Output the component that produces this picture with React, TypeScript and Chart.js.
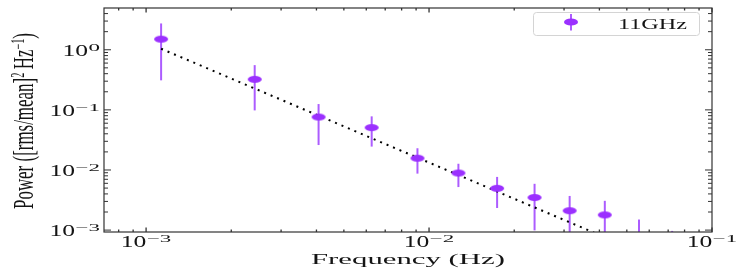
import React, { useEffect, useRef } from 'react';
import { Chart, registerables } from 'chart.js';

Chart.register(...registerables);

// ---- data ----
const freq = [1.13e-3, 2.42e-3, 4.07e-3, 6.27e-3, 9.1e-3, 1.27e-2, 1.74e-2, 2.36e-2, 3.14e-2, 4.18e-2, 5.52e-2, 7.23e-2];
const power = [1.5, 0.322, 0.076, 0.0507, 0.0157, 0.0089, 0.00495, 0.00348, 0.0021, 0.00179, 0.0006, 0.0004];
const powerHi = [2.74, 0.555, 0.125, 0.078, 0.023, 0.0127, 0.00767, 0.00589, 0.0037, 0.00307, 0.0015, 0.00097];
const powerLo = [0.31, 0.098, 0.026, 0.0245, 0.0087, 0.0052, 0.00233, 0.00099, 0.0001, 0.0001, 0.0001, 0.0001];
const fitFreq = [1.13e-3, 4.5e-2];
const fitPower = [1.04, 6.56e-4];
const xTickExps = [-3, -2, -1];
const yTickExps = [0, -1, -2, -3];
const seriesLabel = '11GHz';
const xTitle = 'Frequency (Hz)';
const yTitleRuns = [
  { t: 'Power ([rms/mean]', sup: false },
  { t: '2', sup: true },
  { t: '\u2009Hz', sup: false },
  { t: '\u2212', sup: true },
  { t: '1', sup: true },
  { t: ')', sup: false },
];

// ---- styles ----
const FONT = '"Liberation Serif", "DejaVu Serif", serif';
const MARKER = 'rgb(155,48,255)';
const BAR = 'rgb(172,92,255)';
const AXIS = '#333333';
const TEXT = '#141414';

function makeMarker(w: number, h: number) {
  const c = document.createElement('canvas');
  c.width = w + 2;
  c.height = h + 2;
  const g = c.getContext('2d')!;
  g.fillStyle = MARKER;
  g.beginPath();
  g.ellipse(c.width / 2, c.height / 2, w / 2, h / 2, 0, 0, Math.PI * 2);
  g.fill();
  return c;
}

function drawPow(ctx: CanvasRenderingContext2D, e: number, ax: number, baseline: number, align: 'center' | 'right') {
  const MAIN_SX = 1.6, SUP_SX = 2.3, GAP = 0.5;
  ctx.font = `16px ${FONT}`;
  const w1 = ctx.measureText('10').width * MAIN_SX;
  const sup = e === 0 ? '0' : '\u2212' + Math.abs(e);
  ctx.font = `10px ${FONT}`;
  const w2 = ctx.measureText(sup).width * SUP_SX;
  const total = w1 + GAP + w2;
  const left = align === 'center' ? ax - total / 2 : ax - total;
  ctx.save();
  ctx.translate(left, baseline);
  ctx.scale(MAIN_SX, 1);
  ctx.font = `16px ${FONT}`;
  ctx.fillText('10', 0, 0);
  ctx.restore();
  ctx.save();
  ctx.translate(left + w1 + GAP, baseline - 5);
  ctx.scale(SUP_SX, 1);
  ctx.font = `10px ${FONT}`;
  ctx.fillText(sup, 0, 0);
  ctx.restore();
}

function drawFitted(ctx: CanvasRenderingContext2D, text: string, fs: number, x: number, baseline: number, targetW: number, anchor: number) {
  ctx.font = `${fs}px ${FONT}`;
  const w = ctx.measureText(text).width;
  const s = targetW / w;
  ctx.save();
  ctx.translate(x - anchor * targetW, baseline);
  ctx.scale(s, 1);
  ctx.fillText(text, 0, 0);
  ctx.restore();
}

function drawYTitle(ctx: CanvasRenderingContext2D, cx: number, cy: number, targetLen: number, across: number) {
  const fs = 14, sfs = 8.5, rise = 4.2;
  let w = 0;
  for (const r of yTitleRuns) {
    ctx.font = `${r.sup ? sfs : fs}px ${FONT}`;
    w += ctx.measureText(r.t).width;
  }
  const s = targetLen / w;
  ctx.save();
  ctx.translate(cx, cy);
  ctx.rotate(-Math.PI / 2);
  ctx.scale(s, across);
  let px = -w / 2;
  for (const r of yTitleRuns) {
    ctx.font = `${r.sup ? sfs : fs}px ${FONT}`;
    ctx.fillText(r.t, px, r.sup ? -rise : 0);
    px += ctx.measureText(r.t).width;
  }
  ctx.restore();
}

const decor = {
  id: 'decor',
  beforeDatasetsDraw(chart: any) {
    const { ctx, chartArea: a, scales } = chart;
    const x = scales.x, y = scales.y;
    ctx.save();
    ctx.beginPath();
    ctx.rect(a.left, a.top, a.right - a.left, a.bottom - a.top);
    ctx.clip();
    ctx.strokeStyle = BAR;
    ctx.lineWidth = 2;
    for (let i = 0; i < freq.length; i++) {
      const px = x.getPixelForValue(freq[i]);
      ctx.beginPath();
      ctx.moveTo(px, y.getPixelForValue(powerHi[i]));
      ctx.lineTo(px, y.getPixelForValue(powerLo[i]));
      ctx.stroke();
    }
    ctx.restore();
  },
  afterDraw(chart: any) {
    const { ctx, chartArea: a, scales } = chart;
    const x = scales.x, y = scales.y;
    ctx.save();
    // frame
    ctx.strokeStyle = AXIS;
    ctx.lineWidth = 1.2;
    ctx.strokeRect(a.left, a.top, a.right - a.left, a.bottom - a.top);
    // x ticks (top and bottom, inward)
    ctx.lineWidth = 1.3;
    for (let e = -5; e <= 1; e++) {
      for (let m = 1; m <= 9; m++) {
        const v = m * Math.pow(10, e);
        if (v < x.min * 0.999 || v > x.max * 1.001) continue;
        const px = x.getPixelForValue(v);
        const L = m === 1 ? 4.5 : 2.5;
        ctx.beginPath();
        ctx.moveTo(px, a.bottom);
        ctx.lineTo(px, a.bottom - L);
        ctx.moveTo(px, a.top);
        ctx.lineTo(px, a.top + L);
        ctx.stroke();
      }
    }
    // y ticks (left and right, inward)
    ctx.lineWidth = 1;
    for (let e = -5; e <= 1; e++) {
      for (let m = 1; m <= 9; m++) {
        const v = m * Math.pow(10, e);
        if (v < y.min * 0.999 || v > y.max * 1.001) continue;
        const py = y.getPixelForValue(v);
        const L = m === 1 ? 7 : 4;
        ctx.beginPath();
        ctx.moveTo(a.left, py);
        ctx.lineTo(a.left + L, py);
        ctx.moveTo(a.right, py);
        ctx.lineTo(a.right - L, py);
        ctx.stroke();
      }
    }
    // tick labels
    ctx.fillStyle = TEXT;
    ctx.textBaseline = 'alphabetic';
    ctx.textAlign = 'left';
    for (const e of xTickExps) {
      drawPow(ctx, e, x.getPixelForValue(Math.pow(10, e)), a.bottom + 15, 'center');
    }
    for (const e of yTickExps) {
      drawPow(ctx, e, a.left - 4, y.getPixelForValue(Math.pow(10, e)) + 6, 'right');
    }
    // axis titles
    drawFitted(ctx, xTitle, 14.5, (a.left + a.right) / 2, 263.5, 194, 0.5);
    drawYTitle(ctx, 33, (a.top + a.bottom) / 2 + 1, 176, 2.1);
    // legend
    const bx = 533.5, by = 12.5, bw = 166, bh = 23, r = 3;
    ctx.beginPath();
    ctx.moveTo(bx + r, by);
    ctx.lineTo(bx + bw - r, by);
    ctx.quadraticCurveTo(bx + bw, by, bx + bw, by + r);
    ctx.lineTo(bx + bw, by + bh - r);
    ctx.quadraticCurveTo(bx + bw, by + bh, bx + bw - r, by + bh);
    ctx.lineTo(bx + r, by + bh);
    ctx.quadraticCurveTo(bx, by + bh, bx, by + bh - r);
    ctx.lineTo(bx, by + r);
    ctx.quadraticCurveTo(bx, by, bx + r, by);
    ctx.closePath();
    ctx.fillStyle = 'rgba(255,255,255,0.85)';
    ctx.fill();
    ctx.strokeStyle = '#d4d4d4';
    ctx.lineWidth = 1;
    ctx.stroke();
    ctx.strokeStyle = BAR;
    ctx.lineWidth = 2;
    ctx.beginPath();
    ctx.moveTo(571, 14);
    ctx.lineTo(571, 30.5);
    ctx.stroke();
    ctx.fillStyle = MARKER;
    ctx.beginPath();
    ctx.ellipse(571, 22, 7, 3.6, 0, 0, Math.PI * 2);
    ctx.fill();
    ctx.fillStyle = TEXT;
    drawFitted(ctx, seriesLabel, 14.5, 618, 28.7, 69, 0);
    ctx.restore();
  },
};

export default function App() {
  const ref = useRef<HTMLCanvasElement>(null);
  useEffect(() => {
    document.body.style.margin = '0';
    const marker = makeMarker(14, 7);
    const chart = new Chart(ref.current!, {
      type: 'scatter',
      data: {
        datasets: [
          {
            label: seriesLabel,
            data: freq.map((f, i) => ({ x: f, y: power[i] })),
            pointStyle: marker as any,
            pointRadius: 7,
            showLine: false,
            backgroundColor: MARKER,
            borderColor: MARKER,
          },
          {
            label: 'fit',
            data: fitFreq.map((f, i) => ({ x: f, y: fitPower[i] })),
            showLine: true,
            pointRadius: 0,
            borderColor: '#000000',
            borderWidth: 2,
            borderDash: [2, 5],
            fill: false,
          },
        ],
      },
      options: {
        animation: false,
        responsive: false,
        events: [],
        layout: { padding: { left: 104, right: 35, top: 4, bottom: 41 } },
        scales: {
          x: { type: 'logarithmic', min: 7.1e-4, max: 0.1, display: false },
          y: { type: 'logarithmic', min: 9.3e-4, max: 4.95, display: false },
        },
        plugins: { legend: { display: false }, tooltip: { enabled: false } },
      },
      plugins: [decor],
    });
    return () => chart.destroy();
  }, []);
  return (
    <div style={{ position: 'absolute', left: 0, top: 0, width: 747, height: 273 }}>
      <canvas ref={ref} width={747} height={273} style={{ display: 'block' }} />
    </div>
  );
}
